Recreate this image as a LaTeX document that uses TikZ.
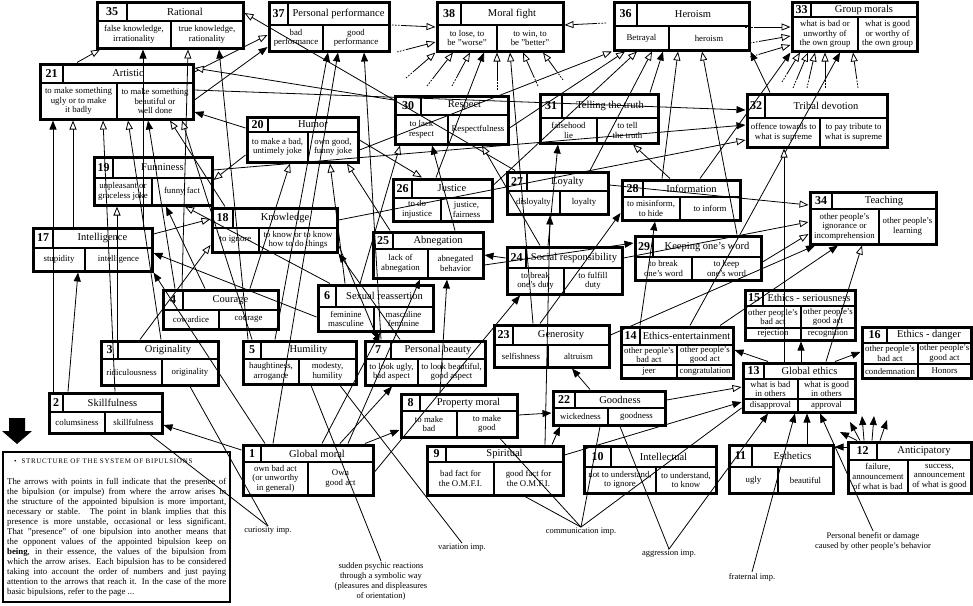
\documentclass[tikz,border=0pt]{standalone}
\usepackage{fontspec}
\setmainfont{Liberation Serif}
\usetikzlibrary{arrows.meta,fit,calc}
\tikzset{
 bx/.style={draw, line width=3pt, inner sep=0pt},
 dv/.style={line width=2.4pt},
 numf/.style={font=\fontsize{12}{12}\selectfont\bfseries, inner sep=0pt},
 titf/.style={font=\fontsize{10.5}{10.5}\selectfont, inner sep=0pt},
 cellf/.style={font=\fontsize{8.8}{9.6}\selectfont, align=center, inner sep=0pt},
 con/.style={line width=0.8pt},
 fa/.style={con, -{Triangle[length=9pt,width=7pt]}},
 oa/.style={con, -{Triangle[length=9pt,width=7pt,fill=white]}},
 stub/.style={dash pattern=on 1.6pt off 1.4pt on 1.6pt off 1.4pt on 1.6pt off 1.4pt on 300pt off 1pt},
 lbl/.style={font=\fontsize{8.5}{10}\selectfont, align=center, inner sep=1pt},
}
\newcommand\bip[8]{%
 \coordinate (#1-a) at (#2,#3); \coordinate (#1-b) at (#4,#5);
 \node[bx, fit=(#1-a)(#1-b)] (#1) {};
 \draw[dv] (#2,#6) -- (#4,#6) (#7,#3) -- (#7,#6) (#8,#6) -- (#8,#5);
 \coordinate (#1-n) at ({(#2+#7)/2},{(#3+#6)/2});
 \coordinate (#1-t) at ({(#7+#4)/2},{(#3+#6)/2});
 \coordinate (#1-l) at ({(#2+#8)/2},{(#6+#5)/2});
 \coordinate (#1-r) at ({(#8+#4)/2},{(#6+#5)/2});
}
\newcommand\bipm[9]{%
 \coordinate (#1-a) at (#2,#3); \coordinate (#1-b) at (#4,#5);
 \node[bx, fit=(#1-a)(#1-b)] (#1) {};
 \draw[dv] (#2,#6) -- (#4,#6) (#2,#7) -- (#4,#7) (#8,#3) -- (#8,#6) (#9,#6) -- (#9,#5);
 \coordinate (#1-n) at ({(#2+#8)/2},{(#3+#6)/2});
 \coordinate (#1-t) at ({(#8+#4)/2},{(#3+#6)/2});
 \coordinate (#1-l) at ({(#2+#9)/2},{(#6+#7)/2});
 \coordinate (#1-r) at ({(#9+#4)/2},{(#6+#7)/2});
 \coordinate (#1-l2) at ({(#2+#9)/2},{(#7+#5)/2});
 \coordinate (#1-r2) at ({(#9+#4)/2},{(#7+#5)/2});
}
\newcommand\bt[5]{%
 \node[numf] (#1num) at (#1-n) {#2};
 \node[titf] (#1tit) at (#1-t) {#3};
 \node[cellf] (#1lt) at (#1-l) {#4};
 \node[cellf] (#1rt) at (#1-r) {#5};
}
\newcommand\btm[7]{%
 \bt{#1}{#2}{#3}{#4}{#5}%
 \node[cellf] (#1lb) at (#1-l2) {#6};
 \node[cellf] (#1rb) at (#1-r2) {#7};
}
\begin{document}
\begin{tikzpicture}[x=1pt,y=-1pt]
\fill[white] (0,0) rectangle (973,605);
\path[use as bounding box] (0,0) rectangle (973,605);

% ---------- boxes ----------
\bip{n35}{97}{2}{243}{48}{21}{127}{171}
\bt{n35}{35}{Rational}{false knowledge,\\irrationality}{true knowledge,\\rationality}
\bip{n37}{269}{2}{389}{51}{25}{288}{323}
\bt{n37}{37}{Personal performance}{bad\\performance}{good\\performance}
\bip{n38}{437}{2}{563}{51}{25}{461}{497}
\bt{n38}{38}{Moral fight}{to lose, to\\be "worse"}{to win, to\\be "better"}
\bip{n36}{614}{2}{749}{50}{26}{637}{669}
\bt{n36}{36}{Heroism}{Betrayal}{heroism}
\bip{n33}{792}{2}{917}{51}{17}{811}{858}
\bt{n33}{33}{Group morals}{what is bad or\\unworthy of\\the own group}{what is good\\or worthy of\\the own group}
\bip{n21}{40}{64}{193}{119}{83}{63}{117}
\bt{n21}{21}{Artistic}{to make something\\ugly or to make\\it badly}{to make something\\beautiful or\\well done}
\bip{n30}{395}{96}{508}{144}{115}{421}{448}
\bt{n30}{30}{Respect}{to lack\\respect}{Respectfulness}
\bip{n31}{540}{94}{658}{143}{118}{562}{597}
\bt{n31}{31}{Telling the truth}{falsehood\\lie}{to tell\\the truth}
\bip{n32}{747}{94}{887}{147}{118}{765}{820}
\bt{n32}{32}{Tribal devotion}{offence towards to\\what is supreme}{to pay tribute to\\what is supreme}
\bip{n20}{247}{117}{358}{162}{132}{268}{308}
\bt{n20}{20}{Humor}{to make a bad,\\untimely joke}{own good,\\funny joke}
\bip{n19}{94}{157}{212}{205}{178}{113}{152}
\bt{n19}{19}{Funniness}{unpleasant or\\graceless joke}{funny fact}
\bip{n26}{393}{179}{492}{221}{198}{412}{441}
\bt{n26}{26}{Justice}{to do\\injustice}{justice,\\fairness}
\bip{n27}{507}{172}{608}{214}{191}{527}{560}
\bt{n27}{27}{Loyalty}{disloyalty}{loyalty}
\bip{n28}{622}{180}{740}{220}{197}{643}{680}
\bt{n28}{28}{Information}{to misinform,\\to hide}{to inform}
\bip{n34}{810}{192}{936}{244}{209}{832}{879}
\bt{n34}{34}{Teaching}{other people's\\ignorance or\\incomprehension}{other people's\\learning}
\bip{n18}{212}{208}{337}{252}{228}{233}{259}
\bt{n18}{18}{Knowledge}{to ignore}{to know or to know\\how to do things}
\bip{n17}{33}{228}{152}{271}{248}{53}{85}
\bt{n17}{17}{Intelligence}{stupidity}{intelligence}
\bip{n25}{373}{232}{483}{278}{249}{393}{428}
\bt{n25}{25}{Abnegation}{lack of\\abnegation}{abnegated\\behavior}
\bip{n24}{507}{247}{622}{294}{268}{526}{564}
\bt{n24}{24}{Social responsibility}{to break\\one's duty}{to fulfill\\duty}
\bip{n29}{635}{236}{761}{280}{257}{653}{692}
\bt{n29}{29}{Keeping one's word}{to break\\one's word}{to keep\\one's word}
\bip{n4}{163}{290}{278}{329}{310}{183}{219}
\bt{n4}{4}{Courage}{cowardice}{courage}
\bip{n6}{318}{285}{433}{331}{307}{336}{374}
\bt{n6}{6}{Sexual reassertion}{feminine\\masculine}{masculine\\feminine}
\bipm{n15}{745}{290}{855}{340}{306}{328}{763}{801}
\btm{n15}{15}{Ethics - seriousness}{other people's\\bad act}{other people's\\good act}{rejection}{recognition}
\bip{n3}{101}{341}{218}{385}{359}{118}{162}
\bt{n3}{3}{Originality}{ridiculousness}{originality}
\bip{n5}{243}{341}{356}{384}{359}{261}{299}
\bt{n5}{5}{Humility}{haughtiness,\\arrogance}{modesty,\\humility}
\bip{n7}{365}{341}{485}{385}{359}{391}{418}
\bt{n7}{7}{Personal beauty}{to look ugly,\\bad aspect}{to look beautiful,\\good aspect}
\bip{n23}{494}{325}{609}{367}{345}{513}{548}
\bt{n23}{23}{Generosity}{selfishness}{altruism}
\bipm{n14}{621}{327}{733}{378}{345}{365}{640}{677}
\btm{n14}{14}{Ethics-entertainment}{other people's\\bad act}{other people's\\good act}{jeer}{congratulation}
\bipm{n16}{862}{327}{971}{378}{343}{364}{887}{918}
\btm{n16}{16}{Ethics - danger}{other people's\\bad act}{other people's\\good act}{condemnation}{Honors}
\bipm{n13}{743}{363}{855}{412}{379}{399}{764}{798}
\btm{n13}{13}{Global ethics}{what is bad\\in others}{what is good\\in others}{disapproval}{approval}
\bip{n2}{49}{393}{162}{433}{412}{63}{105}
\bt{n2}{2}{Skillfulness}{columsiness}{skillfulness}
\bip{n8}{401}{394}{517}{437}{411}{420}{457}
\bt{n8}{8}{Property moral}{to make\\bad}{to make\\good}
\bip{n22}{553}{391}{665}{425}{408}{575}{608}
\bt{n22}{22}{Goodness}{wickedness}{goodness}
\bip{n1}{243}{445}{373}{495}{462}{261}{308}
\bt{n1}{1}{Global moral}{own bad act\\(or unworthy\\in general)}{Own\\good act}
\bip{n9}{427}{446}{563}{495}{462}{446}{494}
\bt{n9}{9}{Spiritual}{bad fact for\\the O.M.F.I.}{good fact for\\the O.M.F.I.}
\bip{n10}{584}{446}{716}{493}{467}{611}{656}
\bt{n10}{10}{Intellectual}{not to understand,\\to ignore}{to understand,\\to know}
\bip{n11}{729}{445}{833}{493}{467}{752}{778}
\bt{n11}{11}{Esthetics}{ugly}{beautiful}
\bip{n12}{848}{442}{971}{493}{460}{877}{908}
\bt{n12}{12}{Anticipatory}{failure,\\announcement\\of what is bad}{success,\\announcement\\of what is good}

% ---------- free labels ----------
\node[lbl] (lcur) at (268,531) {curiosity imp.};
\node[lbl] (lsud) at (381,581) {sudden psychic reactions\\through a symbolic way\\(pleasures and displeasures\\of orientation)};
\node[lbl] (lvar) at (462,548) {variation imp.};
\node[lbl] (lcom) at (581,532) {communication imp.};
\node[lbl] (lagg) at (669,554) {aggression imp.};
\node[lbl] (lfra) at (752,577) {fraternal imp.};
\node[lbl] (lper) at (873,541) {Personal benefit or damage\\caused by other people's behavior};

% ---------- stub tails ----------
\coordinate (s1) at (392,25); \coordinate (s2) at (397,52); \coordinate (s3) at (406,78);
\coordinate (s4) at (427,86); \coordinate (s5) at (452,86); \coordinate (s6) at (497,90);
\coordinate (s7) at (538,86); \coordinate (s8) at (563,80); \coordinate (s9) at (606,23);
\coordinate (s10) at (745,27); \coordinate (s11) at (750,43); \coordinate (s12) at (750,57);
\coordinate (s13) at (782,82); \coordinate (s14) at (793,88); \coordinate (s15) at (807,88);
\coordinate (s16) at (825,88); \coordinate (s17) at (858,88);
\coordinate (e1) at (840,432); \coordinate (e2) at (850,422); \coordinate (e3) at (862,416);
\coordinate (e4) at (874,416); \coordinate (e5) at (887,420);

% ---------- connectors ----------
% into 35
\draw[oa] (n21.north -| 77,0) -- (n35.south -| 100,0);
\draw[fa] (n17.north -| 143,0) -- (n35.south -| 143,0);
\draw[oa] (n4.north -| 182,0) -- (n35.south -| 188,0);
\draw[fa] (n5.north -| 248,0) -- (n35.south -| 219,0);
\draw[oa] (n27.north -| 515,0) -- (n35.east |- 0,13);
% into 37
\draw[oa] (n21.east |- 0,72) -- (n37.west |- 0,35);
\draw[fa] (n21.east |- 0,100) -- (n37.west |- 0,47);
\draw[fa] (n5.north -| 275,0) -- (n37.south -| 328,0);
\draw[fa] (n1.north -| 273,0) -- (n37.south -| 338,0);
\draw[fa] (n7.north -| 381,0) -- (n37.south -| 364,0);
% into 38
\draw[oa,stub] (s1) -- (n38.west |- 0,27);
\draw[oa,stub] (s2) -- (n38.west |- 0,42);
\draw[oa,stub] (s3) -- (n38.south west);
\draw[oa,stub] (s4) -- (n38.south -| 453,0);
\draw[oa,stub] (s5) -- (n38.south -| 470,0);
\draw[fa] (n26.north -| 436,0) -- (n38.south -| 484,0);
\draw[oa,stub] (s6) -- (n38.south -| 497,0);
\draw[oa] (n23.north -| 533,0) -- (n38.south -| 510,0);
\draw[oa,stub] (s7) -- (n38.south -| 523,0);
\draw[oa,stub] (s8) -- (n38.south -| 543,0);
\draw[oa,stub] (s9) -- (n38.east |- 0,25);
% into 36
\draw[oa] (n20.east |- 0,150) -- (n36.south -| 612,0);
\draw[oa] (n30.east |- 0,128) -- (n36.south -| 625,0);
\draw[oa] (n26.east |- 0,185) -- (n36.south -| 637,0);
\draw[oa] (n27.north -| 590,0) -- (n36.south -| 652,0);
\draw[fa] (n31.north -| 650,0) -- (n36.south -| 663,0);
\draw[oa] (n28.north -| 662,0) -- (n36.south -| 678,0);
\draw[oa] (n29.north -| 737,0) -- (n36.south -| 702,0);
\draw[fa] (n32.north -| 770,0) -- (n36.south east);
% into 33
\draw[oa,stub] (s10) -- (n33.west |- 0,27);
\draw[oa,stub] (s11) -- (n33.west |- 0,36);
\draw[oa,stub] (s12) -- (n33.west |- 0,45);
\draw[fa] (n28.north -| 700,0) -- (n33.south west);
\draw[oa,stub] (s13) -- (n33.south -| 800,0);
\draw[oa,stub] (s14) -- (n33.south -| 808,0);
\draw[oa,stub] (s15) -- (n33.south -| 815,0);
\draw[oa,stub] (s16) -- (n33.south -| 825,0);
\draw[fa] (n14.north -| 690,0) -- (n33.south -| 840,0);
\draw[oa,stub] (s17) -- (n33.south -| 853,0);
% into 32
\draw[fa] (n21.east |- 0,90) -- (n32.west |- 0,110);
\draw[fa] (n19.east |- 0,170) -- (n32.west |- 0,125);
\draw[oa] (n18.east |- 0,220) -- (n32.west |- 0,140);
\draw[oa] (n13.north -| 784,0) -- (n32.south -| 784,0);
% into 34
\draw[oa] (n27.east |- 0,185) -- (n34.west |- 0,205);
\draw[oa] (n24.east |- 0,258) -- (n34.west |- 0,222);
\draw[oa] (n29.east |- 0,262) -- (n34.west |- 0,234);
\draw[fa] (n23.east |- 0,335) -- (n34.south -| 815,0);
\draw[fa] (n14.north -| 720,0) -- (n34.south -| 838,0);
\draw[oa] (n13.north -| 826,0) -- (n34.south -| 862,0);
% into 15, 16, 14
\draw[fa] (n13.north -| 801,0) -- (n15.south -| 801,0);
\draw[fa] (n13.north -| 835,0) -- (n16.west |- 0,352);
\draw[fa] (n13.north -| 768,0) -- (n14.east |- 0,350);
% into 13
\draw[oa] (n22.east |- 0,400) -- (n13.west |- 0,387);
\draw[fa] (n9.east |- 0,455) -- (n13.west |- 0,402);
\draw[fa] (lagg.north) -- (n13.south -| 768,0);
\draw[fa] (lfra.north) -- (n13.south -| 795,0);
\draw[fa] (n11.north -| 807,0) -- (n13.south -| 807,0);
\draw[fa] (lper.north) -- (n13.south -| 820,0);
% anticipatory
\draw[fa] (n12.west |- 0,447) -- (n11.east |- 0,447);
\draw[fa] (n12.north -| 857,0) -- (e1);
\draw[fa] (n12.north -| 860,0) -- (e2);
\draw[fa] (n12.north -| 864,0) -- (e3);
\draw[fa] (n12.north -| 872,0) -- (e4);
\draw[fa] (n12.north -| 880,0) -- (e5);
% left part
\draw[fa] (n1.west |- 0,450) -- (n2.east |- 0,425);
\draw[fa] (n2.north -| 68,0) -- (n17.south -| 78,0);
\draw[fa] (n6.west |- 0,317) -- (n17.east |- 0,253);
\draw[oa] (n17.east |- 0,234) -- (n18.west |- 0,219);
\draw[oa] (n3.north -| 140,0) -- (n18.west |- 0,245);
\draw[oa] (n3.north -| 117,0) -- (n19.south -| 117,0);
\draw[fa] (n4.north -| 205,0) -- (n19.south -| 166,0);
\draw[oa] (n6.north -| 330,0) -- (n19.south -| 185,0);
\draw[fa] (n2.north -| 53,0) -- (n21.south -| 53,0);
\draw[oa] (n17.north -| 73,0) -- (n21.south -| 73,0);
\draw[oa] (n2.north -| 115,0) -- (n21.south -| 103,0);
\draw[oa] (n3.north -| 161,0) -- (n21.south -| 128,0);
\draw[fa] (n4.north -| 175,0) -- (n21.south -| 148,0);
\draw[oa] (n18.north -| 225,0) -- (n21.south -| 170,0);
\draw[oa] (n5.north -| 252,0) -- (n21.south -| 182,0);
\draw[oa] (n30.west |- 0,100) -- (n21.east |- 0,68);
\draw[fa] (n20.west |- 0,128) -- (n21.east |- 0,112);
% middle
\draw[oa] (n4.north -| 250,0) -- (n20.south -| 290,0);
\draw[oa] (n6.north -| 345,0) -- (n20.south -| 330,0);
\draw[oa] (n25.north -| 390,0) -- (n20.south -| 347,0);
\draw[oa] (n20.east |- 0,140) -- (n26.north -| 422,0);
\draw[fa] (n25.north -| 455,0) -- (n30.south -| 432,0);
\draw[oa] (n6.north -| 360,0) -- (n30.south -| 400,0);
\draw[oa] (n24.north -| 540,0) -- (n30.south -| 482,0);
\draw[fa] (n8.north -| 440,0) -- (n25.south -| 447,0);
\draw[fa] (n7.north -| 400,0) -- (n18.south east);
\draw[fa] (n18.east |- 0,245) -- (n7.north -| 378,0);
\draw[fa] (n1.north -| 340,0) -- (n7.south -| 392,0);
\draw[fa] (n24.west |- 0,258) -- (n25.east |- 0,255);
\draw[fa] (n1.east |- 0,472) -- (n24.south -| 520,0);
\draw[fa] (n9.north -| 545,0) -- (n27.south -| 550,0);
\draw[fa] (n23.north -| 540,0) -- (n28.west |- 0,213);
\draw[fa] (n25.east |- 0,265) -- (n29.west |- 0,243);
\draw[fa] (n14.north -| 640,0) -- (n28.south -| 655,0);
\draw[fa] (n22.north -| 590,0) -- (n23.south -| 572,0);
\draw[fa] (n24.north -| 548,0) -- (n31.south -| 558,0);
\draw[oa] (n28.north -| 670,0) -- (n31.south -| 633,0);
\draw[fa] (n9.north -| 552,0) -- (n22.south -| 560,0);
\draw[fa] (n8.east |- 0,415) -- (n22.west |- 0,413);
\draw[fa] (n1.north -| 365,0) -- (n8.west |- 0,430);
\draw[fa] (n1.north -| 265,0) -- (n17.south east);
\draw[fa] (n1.north -| 322,0) -- (n6.south -| 380,0);
\draw[fa] (n1.north -| 348,0) -- (n25.south -| 420,0);
\draw[oa] (n20.west |- 0,155) -- (n19.east |- 0,180);
% label lines
\draw[con] (lcur.north) -- (n3.south -| 190,0);
\draw[con] (lcur.north) -- (n2.south -| 150,0);
\draw[con] (lsud.north) -- (n5.south -| 311,0);
\draw[con] (lvar.north) -- (n5.south -| 340,0);
\draw[con] (lcom.north) -- (n9.south -| 525,0);
\draw[con] (lcom.north) -- (n8.south -| 500,0);
\draw[con] (lcom.north) -- (n22.south -| 600,0);
\draw[con] (lcom.north) -- (n13.west |- 0,408);
\draw[con] (lagg.north) -- (n22.south -| 620,0);

% ---------- legend ----------
\fill (9,418) -- (25,418) -- (25,431) -- (32,431) -- (17,444) -- (2,431) -- (9,431) -- cycle;
\coordinate (lg-a) at (3,452); \coordinate (lg-b) at (230,602);
\node[draw, line width=2.4pt, inner sep=0pt, fit=(lg-a)(lg-b)] (legend) {};
\node[anchor=west, inner sep=0pt, font=\fontsize{7}{8}\selectfont\addfontfeatures{LetterSpace=10}] (legtitle) at (14,461) {\textbullet\ \ STRUCTURE OF THE SYSTEM OF BIPULSIONS};
\node[anchor=north west, inner sep=0pt, text width=219pt, align=justify, font=\fontsize{8.8}{10}\selectfont] (legtext) at (7,478) {The arrows with points in full indicate that the presence of\linebreak the bipulsion (or impulse) from where the arrow arises in\linebreak the structure of the appointed bipulsion is more important,\linebreak necessary or stable. The point in blank implies that this\linebreak presence is more unstable, occasional or less significant.\linebreak \ That "presence" of one bipulsion into another means that\linebreak the opponent values of the appointed bipulsion keep on\linebreak \textbf{being}, in their essence, the values of the bipulsion from\linebreak which the arrow arises. Each bipulsion has to be considered\linebreak taking into account the order of numbers and just paying\linebreak attention to the arrows that reach it. In the case of the more\linebreak basic bipulsions, refer to the page ...};
\end{tikzpicture}
\end{document}
